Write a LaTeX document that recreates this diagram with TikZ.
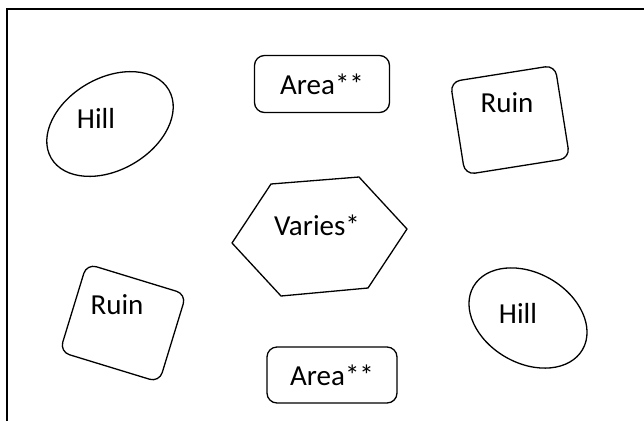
\documentclass[tikz,border=0pt]{standalone}
\usepackage{fontspec}
\setmainfont{Carlito}

\begin{document}
\begin{tikzpicture}[x=1pt,y=1pt,
  outline/.style={draw=black,line width=1.3pt},
  roundbox/.style={outline,rounded corners=10pt},
  txt/.style={inner sep=0pt,font=\fontsize{29}{34}\selectfont}]
\useasboundingbox (0,0) rectangle (644,-421);
\draw [black,line width=2pt] (7,-421) -- (7,-9) -- (644,-9);
% hills
\draw [outline,rotate around={30:(110,-124)}] (110,-124) ellipse (68 and 46);
\node [txt] (hillA) at (96,-118) {Hill};
\draw [outline,rotate around={-30:(528,-318)}] (528,-318) ellipse (63 and 45);
\node [txt] (hillB) at (518,-313) {Hill};
% areas
\node [txt,roundbox,minimum width=135,minimum height=57] (areaA) at (322,-84) {Area**};
\node [txt,roundbox,minimum width=130,minimum height=56] (areaB) at (332,-375) {Area**};
% ruins
\draw [roundbox,rotate around={9:(510,-120)}] (457,-167) rectangle (563,-73);
\node [txt] (ruinA) at (507,-103) {Ruin};
\draw [roundbox,rotate around={-17:(123,-323)}] (71,-369) rectangle (175,-277);
\node [txt] (ruinB) at (117,-305) {Ruin};
% centre
\coordinate (v1) at (271,-184);
\coordinate (v2) at (359,-177);
\coordinate (v3) at (407,-229);
\coordinate (v4) at (368,-288);
\coordinate (v5) at (281,-296);
\coordinate (v6) at (232,-243);
\draw [outline,line join=round] (v1) -- (v2) -- (v3) -- (v4) -- (v5) -- (v6) -- cycle;
\node [txt] (varies) at (317,-225) {Varies*};
\end{tikzpicture}
\end{document}
